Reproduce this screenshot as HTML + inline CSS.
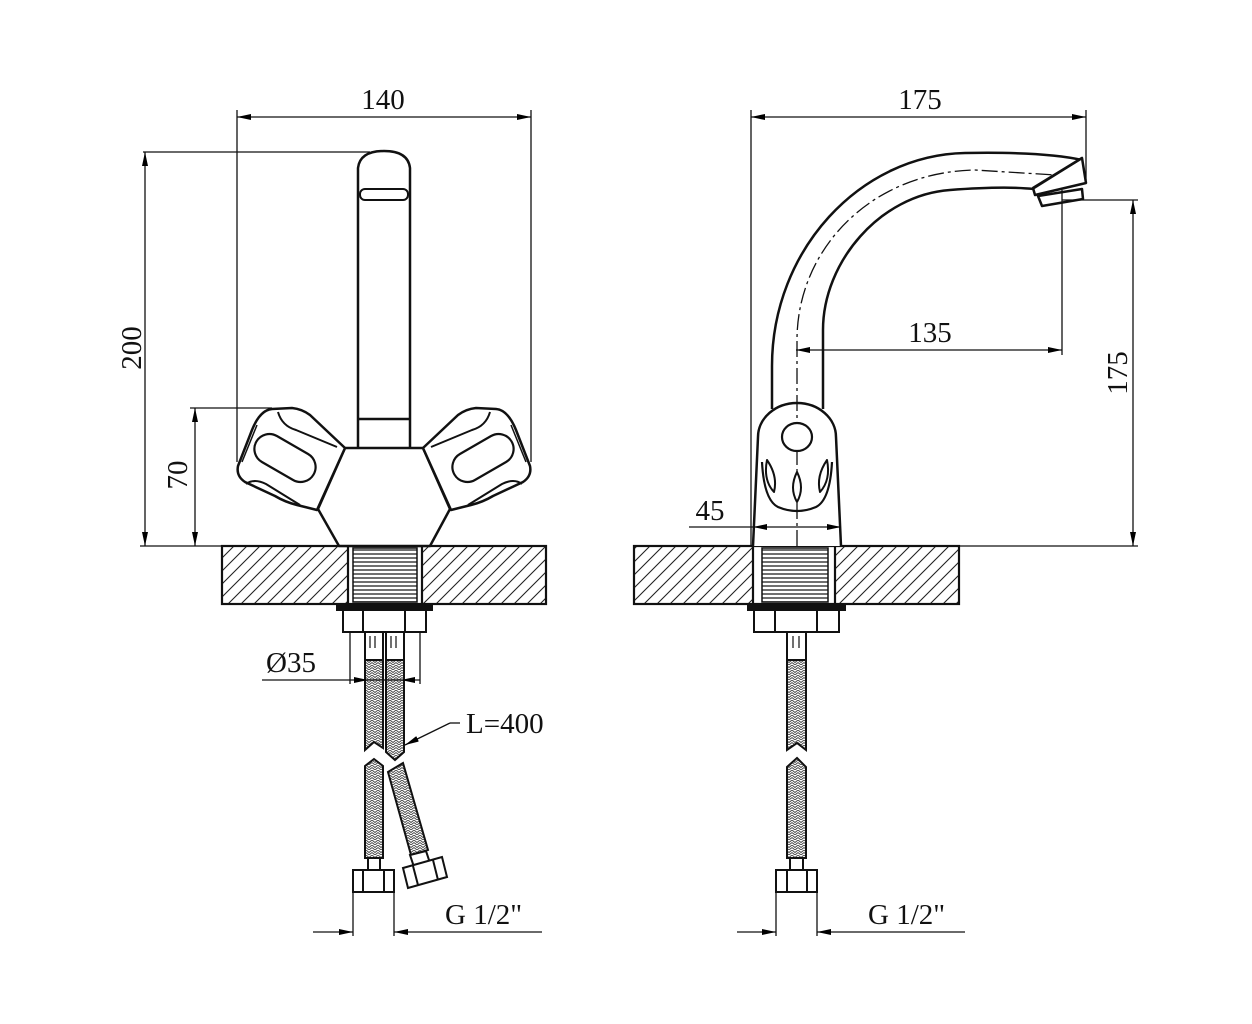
<!DOCTYPE html>
<html><head><meta charset="utf-8"><style>
html,body{margin:0;padding:0;background:#fff;}
svg{display:block;}
text{font-family:"Liberation Serif",serif;font-size:29px;fill:#111;}
</style></head><body>
<svg width="1252" height="1024" viewBox="0 0 1252 1024" xmlns="http://www.w3.org/2000/svg">
<defs>
<pattern id="hatch" patternUnits="userSpaceOnUse" width="13" height="13">
<path d="M-1,14 L14,-1 M-4,4 L4,-4 M9,17 L17,9" stroke="#222" stroke-width="1.1"/>
</pattern>
<pattern id="braid" patternUnits="userSpaceOnUse" width="6" height="5">
<rect width="6" height="5" fill="#fff"/>
<path d="M0,0 L3,2.5 L6,0 M0,2.5 L3,5 L6,2.5" stroke="#444" stroke-width="0.9" fill="none"/>
</pattern>
<pattern id="thread" patternUnits="userSpaceOnUse" width="10" height="4">
<rect width="10" height="4" fill="#fff"/>
<line x1="0" y1="2" x2="10" y2="2" stroke="#222" stroke-width="1.3"/>
</pattern>
<marker id="ar" markerWidth="14" markerHeight="6" refX="14" refY="3" orient="auto" markerUnits="userSpaceOnUse">
<path d="M0,0 L14,3 L0,6 Z" fill="#000"/>
</marker>
<marker id="al" markerWidth="14" markerHeight="6" refX="0" refY="3" orient="auto" markerUnits="userSpaceOnUse">
<path d="M14,0 L0,3 L14,6 Z" fill="#000"/>
</marker>
</defs>

<!-- counters -->
<g stroke="#111" stroke-width="2.2">
<rect x="222" y="546" width="324" height="58" fill="url(#hatch)"/>
<rect x="348" y="546" width="74" height="58" fill="#fff"/>
<rect x="353" y="548" width="64" height="54" fill="url(#thread)" stroke-width="1.5"/>
<rect x="634" y="546" width="325" height="58" fill="url(#hatch)"/>
<rect x="753" y="546" width="82" height="58" fill="#fff"/>
<rect x="762" y="548" width="66" height="54" fill="url(#thread)" stroke-width="1.5"/>
</g>

<!-- LEFT faucet -->
<g fill="#fff" stroke="#111" stroke-width="2.5" stroke-linejoin="round">
<path d="M358,448 L358,168 Q360,151 384,151 Q408,151 410,168 L410,448"/>
<rect x="360" y="189" width="48" height="11" rx="5" stroke-width="2"/>
<line x1="358" y1="419" x2="410" y2="419"/>
<path d="M345,448 L423,448 L450,509 L430,546 L339,546 L318,509 Z"/>
<g id="hl">
<path d="M272,409 L292,408 Q302,409 310,415 L345,448 L317,510 L297,505 Q285,502 275,496 L245,482 Q236,476 238,466 L252,430 Q260,410 272,409 Z"/>
<rect x="252" y="443" width="66" height="30" rx="15" transform="rotate(30 285 458)" stroke-width="2.2"/>
<path d="M278,412 Q282,426 296,430 L337,447" fill="none" stroke-width="2"/>
<path d="M246,484 Q254,478 266,484 L300,505" fill="none" stroke-width="2"/>
<path d="M242,462 L257,425" fill="none" stroke-width="1.5"/>
</g>
<use href="#hl" transform="translate(768,0) scale(-1,1)"/>
</g>

<!-- RIGHT faucet -->
<g fill="none" stroke="#111" stroke-width="2.5" stroke-linejoin="round">
<path d="M772,409 L772,366 C772,250 860,155 965,153 C1020,152 1060,155 1082,160"/>
<path d="M823,409 L823,330 C823,262 880,195 950,190 C990,187 1015,187 1034,189"/>
<path d="M1082,158 L1086,183 L1035,195 L1033,188 Z" fill="#fff"/>
<line x1="1082" y1="158" x2="1034" y2="188"/>
<path d="M1038,196 L1082,189 L1083,199 L1042,206 Z" fill="#fff"/>
<path d="M753,546 L758,437 A39,34 0 0 1 836,437 L841,546" fill="#fff"/>
<path d="M797,546 L797,340 C797,250 870,172 975,170 L1055,175" stroke-width="1.3" stroke-dasharray="16,4,3,4"/>
<ellipse cx="797" cy="437" rx="15" ry="14" stroke-width="2.2" fill="#fff"/>
<path d="M762,462 Q764,500 778,507 Q797,515 816,507 Q830,500 832,462" stroke-width="2.2"/>
<path d="M767,460 Q778,476 774,492 Q763,480 767,460 Z" stroke-width="2" fill="#fff"/>
<path d="M797,472 Q805,488 797,502 Q789,488 797,472 Z" stroke-width="2" fill="#fff"/>
<path d="M827,460 Q816,476 820,492 Q831,480 827,460 Z" stroke-width="2" fill="#fff"/>
</g>

<!-- LEFT nuts and hoses -->
<g stroke="#111" stroke-width="2" fill="#fff">
<rect x="337" y="604" width="95" height="6" fill="#111"/>
<rect x="343" y="610" width="83" height="22"/>
<line x1="363" y1="610" x2="363" y2="632"/><line x1="405" y1="610" x2="405" y2="632"/>
<rect x="365" y="632" width="18" height="28"/>
<rect x="386" y="632" width="18" height="28"/>
<path d="M370,636 V648 M375,636 V648 M391,636 V648 M396,636 V648" stroke-width="1.2"/>
<path d="M365,660 L383,660 L383,748 L374,742 L365,750 Z" fill="url(#braid)"/>
<path d="M386,660 L404,660 L404,752 L395,760 L386,752 Z" fill="url(#braid)"/>
<path d="M374,759 L383,766 L383,858 L365,858 L365,766 Z" fill="url(#braid)"/>
<rect x="368" y="858" width="12" height="12"/>
<rect x="353" y="870" width="41" height="22"/>
<line x1="363" y1="870" x2="363" y2="892"/><line x1="384" y1="870" x2="384" y2="892"/>
<path d="M388,772 L403,763 L428,850 L411,855 Z" fill="url(#braid)"/>
<path d="M410,855 L426,851 L430,863 L414,867 Z"/>
<path d="M403,868 L442,857 L447,877 L408,888 Z"/>
<line x1="413" y1="866" x2="418" y2="885"/><line x1="433" y1="860" x2="438" y2="880"/>
</g>

<!-- RIGHT nut and hose -->
<g stroke="#111" stroke-width="2" fill="#fff">
<rect x="748" y="604" width="97" height="6" fill="#111"/>
<rect x="754" y="610" width="85" height="22"/>
<line x1="775" y1="610" x2="775" y2="632"/><line x1="817" y1="610" x2="817" y2="632"/>
<rect x="787" y="632" width="19" height="28"/>
<path d="M793,636 V648 M799,636 V648" stroke-width="1.2"/>
<path d="M787,660 L806,660 L806,750 L797,743 L787,750 Z" fill="url(#braid)"/>
<path d="M797,758 L806,767 L806,858 L787,858 L787,767 Z" fill="url(#braid)"/>
<rect x="790" y="858" width="13" height="12"/>
<rect x="776" y="870" width="41" height="22"/>
<line x1="787" y1="870" x2="787" y2="892"/><line x1="807" y1="870" x2="807" y2="892"/>
</g>

<g fill="none" stroke="#111" stroke-width="1.3">
<!-- LEFT VIEW dimensions -->
<line x1="237" y1="117" x2="531" y2="117" marker-start="url(#al)" marker-end="url(#ar)"/>
<line x1="237" y1="110" x2="237" y2="462"/>
<line x1="531" y1="110" x2="531" y2="462"/>
<line x1="143" y1="152" x2="370" y2="152"/>
<line x1="145" y1="152" x2="145" y2="546" marker-start="url(#al)" marker-end="url(#ar)"/>
<line x1="140" y1="546" x2="222" y2="546"/>
<line x1="190" y1="408" x2="272" y2="408"/>
<line x1="195" y1="408" x2="195" y2="546" marker-start="url(#al)" marker-end="url(#ar)"/>
<line x1="350" y1="632" x2="350" y2="684"/>
<line x1="420" y1="632" x2="420" y2="684"/>
<line x1="262" y1="680" x2="368" y2="680" marker-end="url(#ar)"/>
<line x1="401" y1="680" x2="420" y2="680" marker-start="url(#al)"/>
<line x1="368" y1="680" x2="401" y2="680"/>
<line x1="460" y1="723" x2="450" y2="723"/>
<line x1="450" y1="723" x2="405" y2="745" marker-end="url(#ar)"/>
<line x1="353" y1="892" x2="353" y2="936"/>
<line x1="394" y1="892" x2="394" y2="936"/>
<line x1="313" y1="932" x2="353" y2="932" marker-end="url(#ar)"/>
<line x1="394" y1="932" x2="542" y2="932" marker-start="url(#al)"/>
<!-- RIGHT VIEW dimensions -->
<line x1="751" y1="117" x2="1086" y2="117" marker-start="url(#al)" marker-end="url(#ar)"/>
<line x1="751" y1="110" x2="751" y2="546"/>
<line x1="1086" y1="110" x2="1086" y2="180"/>
<line x1="1062" y1="190" x2="1062" y2="355"/>
<line x1="796" y1="350" x2="1062" y2="350" marker-start="url(#al)" marker-end="url(#ar)"/>
<line x1="1062" y1="200" x2="1138" y2="200"/>
<line x1="1133" y1="200" x2="1133" y2="546" marker-start="url(#al)" marker-end="url(#ar)"/>
<line x1="959" y1="546" x2="1138" y2="546"/>
<line x1="689" y1="527" x2="753" y2="527"/>
<line x1="753" y1="527" x2="841" y2="527" marker-start="url(#al)" marker-end="url(#ar)"/>
<line x1="776" y1="892" x2="776" y2="936"/>
<line x1="817" y1="892" x2="817" y2="936"/>
<line x1="737" y1="932" x2="776" y2="932" marker-end="url(#ar)"/>
<line x1="817" y1="932" x2="965" y2="932" marker-start="url(#al)"/>
</g>

<!-- text -->
<text x="383" y="109" text-anchor="middle">140</text>
<text x="920" y="109" text-anchor="middle">175</text>
<text transform="translate(141,348) rotate(-90)" text-anchor="middle">200</text>
<text transform="translate(187,475) rotate(-90)" text-anchor="middle">70</text>
<text x="930" y="342" text-anchor="middle">135</text>
<text transform="translate(1127,373) rotate(-90)" text-anchor="middle">175</text>
<text x="710" y="520" text-anchor="middle">45</text>
<text x="266" y="672">Ø35</text>
<text x="466" y="733">L=400</text>
<text x="445" y="924">G 1/2"</text>
<text x="868" y="924">G 1/2"</text>
</svg>
</body></html>
